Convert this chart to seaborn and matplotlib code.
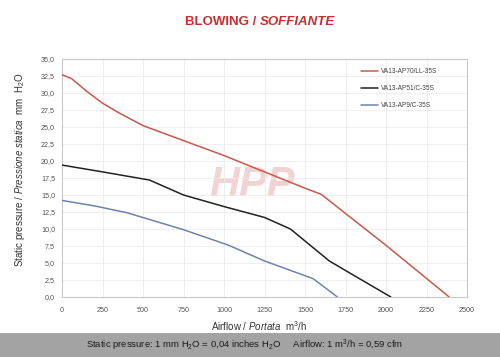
import matplotlib
matplotlib.use("Agg")
import matplotlib.pyplot as plt
import seaborn as sns
import pandas as pd
from matplotlib.ticker import FuncFormatter

# ---- data ----
series_names = ["VA13-AP70/LL-35S", "VA13-AP51/C-35S", "VA13-AP9/C-35S"]

red_flow = [0, 60, 150, 250, 350, 500, 750, 1000, 1250, 1500, 1600, 2000, 2390]
red_pres = [32.7, 32.1, 30.3, 28.5, 27.1, 25.2, 23.0, 20.8, 18.4, 16.0, 15.1, 7.6, 0.0]

black_flow = [0, 250, 540, 750, 1000, 1250, 1410, 1650, 1800, 2030]
black_pres = [19.4, 18.4, 17.2, 15.0, 13.3, 11.7, 10.0, 5.3, 3.2, 0.0]

blue_flow = [0, 200, 400, 750, 1030, 1250, 1550, 1700]
blue_pres = [14.2, 13.4, 12.4, 9.9, 7.6, 5.3, 2.7, 0.0]

colors = ["#c9584c", "#222222", "#6f82aa"]

x_ticks = list(range(0, 2501, 250))
y_ticks = [i * 2.5 for i in range(15)]

df = pd.concat([
    pd.DataFrame({"flow": red_flow, "pres": red_pres, "model": series_names[0]}),
    pd.DataFrame({"flow": black_flow, "pres": black_pres, "model": series_names[1]}),
    pd.DataFrame({"flow": blue_flow, "pres": blue_pres, "model": series_names[2]}),
], ignore_index=True)

sns.set_theme(style="white")
plt.rcParams["font.family"] = ["Liberation Sans", "DejaVu Sans"]
plt.rcParams["mathtext.fontset"] = "custom"
plt.rcParams["mathtext.rm"] = "Liberation Sans"
plt.rcParams["mathtext.it"] = "Liberation Sans:italic"
plt.rcParams["mathtext.bf"] = "Liberation Sans:bold"

fig = plt.figure(figsize=(5.0, 3.57), dpi=100)
fig.patch.set_facecolor("white")

# bottom grey band
fig.patches.append(matplotlib.patches.Rectangle((0, 0), 1, 24 / 357, transform=fig.transFigure,
                                                facecolor="#a3a3a3", edgecolor="none", zorder=0))

ax = fig.add_axes([62 / 500, 1 - 297 / 357, (467 - 62) / 500, (297 - 59) / 357])
ax.set_facecolor("white")

# watermark
ax.text(0.47, 0.47, "HPP", transform=ax.transAxes, fontsize=30, fontweight="bold", style="italic",
        color="#e8b0b0", alpha=0.55, ha="center", va="center", zorder=0)

sns.lineplot(data=df, x="flow", y="pres", hue="model", palette=colors, sort=False,
             estimator=None, linewidth=1.1, ax=ax, zorder=3)

ax.set_xlim(0, 2500)
ax.set_ylim(0, 35)
ax.set_xticks(x_ticks)
ax.set_yticks(y_ticks)
ax.yaxis.set_major_formatter(FuncFormatter(lambda v, p: f"{v:.1f}".replace(".", ",")))
ax.grid(True, color="#ececec", linewidth=0.6)
ax.set_axisbelow(True)
for s in ax.spines.values():
    s.set_color("#c8c8c8")
    s.set_linewidth(0.8)
ax.tick_params(axis="both", labelsize=5.2, colors="#555555", length=2, pad=3)
ax.tick_params(axis="x", pad=5)

ax.set_xlabel("")
ax.set_ylabel("")
fig.text(259 / 500, 1 - 326 / 357, r"Airflow / $\it{Portata}$  m$^3$/h", ha="center", va="center",
         fontsize=7, color="#333333")
fig.text(20 / 500, 1 - 170 / 357, r"Static pressure / $\it{Pressione\ statica}$  mm  H$_2$O",
         ha="center", va="center", rotation=90, fontsize=7, color="#333333")

# title in two pieces
t1 = fig.text(260 / 500, 1 - 22 / 357, "BLOWING / ", ha="right", va="center",
              fontsize=9.5, fontweight="bold", color="#c8302f")
t2 = fig.text(260 / 500, 1 - 22 / 357, "SOFFIANTE", ha="left", va="center",
              fontsize=9.5, fontweight="bold", style="italic", color="#c8302f")
fig.canvas.draw()
w1 = t1.get_window_extent().width
w2 = t2.get_window_extent().width
cx = 260
t1.set_position(((cx - (w1 + w2) / 2 + w1) / 500, 1 - 22 / 357))
t2.set_position(((cx - (w1 + w2) / 2 + w1) / 500, 1 - 22 / 357))

fig.text(86 / 500, 1 - 345 / 357,
         r"Static pressure: 1 mm H$_2$O = 0,04 inches H$_2$O     Airflow: 1 m$^3$/h = 0,59 cfm",
         ha="left", va="center", fontsize=6.8, color="#1a1a1a")

leg = ax.legend(loc="upper left", bbox_to_anchor=(361 / 500, 1 - 68 / 357),
                bbox_transform=fig.transFigure, frameon=False, fontsize=4.7,
                handlelength=2.6, borderaxespad=0, borderpad=0,
                labelspacing=1.55, handletextpad=0.4)
for t in leg.get_texts():
    t.set_color("#444444")

fig.savefig("out.png", dpi=100, facecolor="white")
